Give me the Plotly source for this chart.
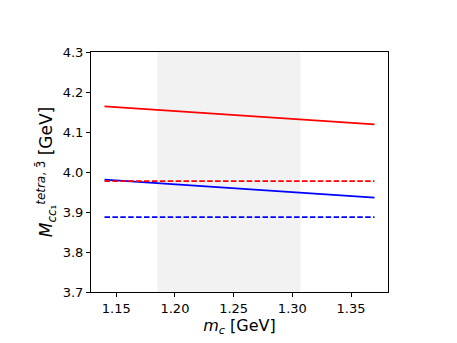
import plotly.graph_objects as go

# charm quark mass range (GeV)
m_c = [1.14, 1.37]

# tetraquark masses (GeV)
red_solid = [4.164, 4.119]
blue_solid = [3.981, 3.936]
red_dashed = [3.977, 3.977]
blue_dashed = [3.887, 3.887]

# shaded m_c band
band = [1.185, 1.307]

fig = go.Figure()

fig.add_vrect(x0=band[0], x1=band[1], fillcolor="rgba(128,128,128,0.1)",
              line_width=0, layer="below")

fig.add_trace(go.Scatter(x=m_c, y=red_solid, mode="lines",
                         line=dict(color="red", width=1.6)))
fig.add_trace(go.Scatter(x=m_c, y=blue_solid, mode="lines",
                         line=dict(color="blue", width=1.6)))
fig.add_trace(go.Scatter(x=m_c, y=red_dashed, mode="lines",
                         line=dict(color="red", width=1.8, dash="5.5px,2.4px")))
fig.add_trace(go.Scatter(x=m_c, y=blue_dashed, mode="lines",
                         line=dict(color="blue", width=1.8, dash="5.5px,2.4px")))

axis_style = dict(
    showline=True, linecolor="black", linewidth=1, mirror=True,
    ticks="outside", ticklen=4, tickwidth=1, tickcolor="black",
    showgrid=False, zeroline=False,
    tickfont=dict(size=13, color="black"),
)

fig.update_xaxes(range=[1.1285, 1.3815], dtick=0.05, tick0=1.15,
                 tickformat=".2f",
                 title=dict(text="<i>m<sub>c</sub></i> [GeV]",
                            font=dict(size=16, color="black"), standoff=4),
                 **axis_style)
fig.update_yaxes(range=[3.7, 4.3], dtick=0.1, tickformat=".1f",
                 title=dict(text="<i>M</i><sub><i>cc</i>₁</sub><sup><i>tetra</i>, 3̄</sup> [GeV]",
                            font=dict(size=17, color="black"), standoff=5),
                 **axis_style)

# page body adds an 8px offset, so margins are shifted to compensate
fig.update_layout(
    width=457, height=343,
    margin=dict(l=83, r=77, t=44, b=59),
    plot_bgcolor="white", paper_bgcolor="white",
    showlegend=False,
    font=dict(family="DejaVu Sans"),
)

fig.write_html("out.html")
